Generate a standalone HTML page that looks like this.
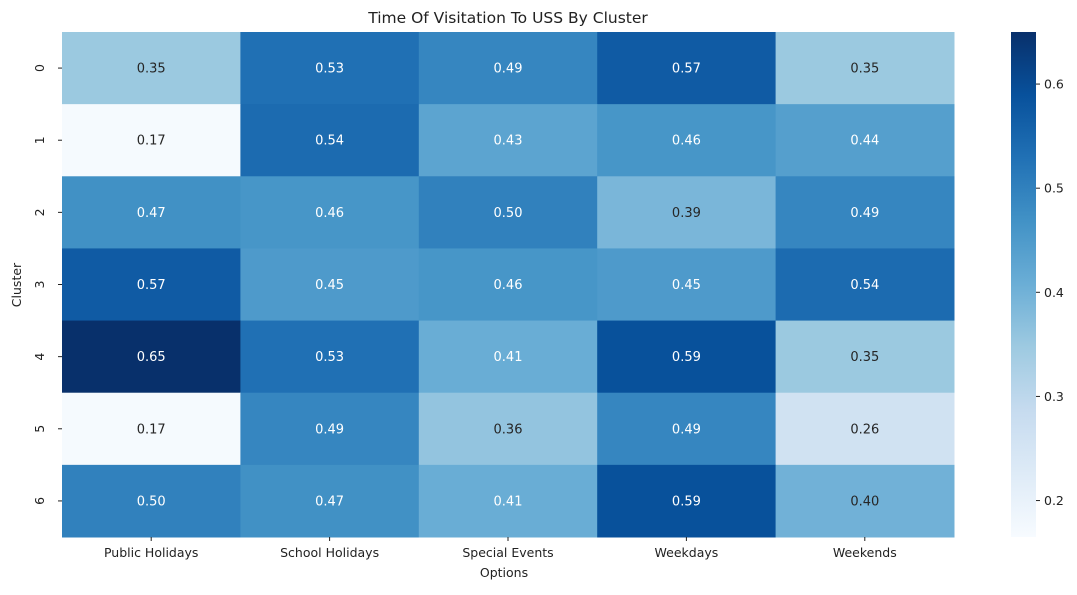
<!DOCTYPE html>
<html><head><meta charset="utf-8"><style>
body{margin:0;background:#fff;}
text{font-family:"DejaVu Sans","Liberation Sans",sans-serif;fill:#222;}
</style></head><body>
<svg id="chart" width="1077" height="590" xmlns="http://www.w3.org/2000/svg">
<text x="508" y="23" font-size="15.5" text-anchor="middle">Time Of Visitation To USS By Cluster</text>
<text x="504" y="577" font-size="12.5" text-anchor="middle">Options</text>
<text x="21" y="285" font-size="12.5" text-anchor="middle" transform="rotate(-90 21 285)">Cluster</text>
<g id="cells"></g><g id="cbar"></g>
</svg>
<script>
const columns=["Public Holidays","School Holidays","Special Events","Weekdays","Weekends"];
const clusters=["0","1","2","3","4","5","6"];
const values=[
[0.35,0.53,0.49,0.57,0.35],
[0.17,0.54,0.43,0.46,0.44],
[0.47,0.46,0.50,0.39,0.49],
[0.57,0.45,0.46,0.45,0.54],
[0.65,0.53,0.41,0.59,0.35],
[0.17,0.49,0.36,0.49,0.26],
[0.50,0.47,0.41,0.59,0.40]];
const cbTicks=[0.2,0.3,0.4,0.5,0.6];
const NS="http://www.w3.org/2000/svg";
const x0=62,x1=954,y0=32,y1=537,vmin=0.165,vmax=0.65;
const cw=(x1-x0)/columns.length,rh=(y1-y0)/clusters.length;
const stops=["#f7fbff","#deebf7","#c6dbef","#9ecae1","#6baed6","#4292c6","#2171b5","#08519c","#08306b"].map(h=>[1,3,5].map(i=>parseInt(h.substr(i,2),16)));
function norm(v){return Math.max(0,Math.min(1,(v-vmin)/(vmax-vmin)));}
function cmap(v){let t=norm(v)*8;let i=Math.min(7,Math.floor(t)),f=t-i;return stops[i].map((c,k)=>Math.round(c+(stops[i+1][k]-c)*f));}
function el(tag,a,p){const e=document.createElementNS(NS,tag);for(const k in a)e.setAttribute(k,a[k]);p.appendChild(e);return e;}
const g=document.getElementById('cells');
values.forEach((row,r)=>row.forEach((v,c)=>{
 const col=cmap(v);
 const rect=el('rect',{x:x0+c*cw,y:y0+r*rh,width:cw+0.5,height:rh+0.5,fill:`rgb(${col})`},g);
 
 
 const t=el('text',{x:x0+(c+0.5)*cw,y:y0+(r+0.5)*rh+4.5,'font-size':13,'text-anchor':'middle'},g);
 t.style.fill=norm(v)>0.495?'#ffffff':'#262626';
 t.textContent=v.toFixed(2);
 
 
}));
columns.forEach((n,c)=>{
 const x=x0+(c+0.5)*cw;
 el('line',{x1:x,x2:x,y1:y1,y2:y1+4,stroke:'#222'},g);
 const t=el('text',{x:x,y:y1+20,'font-size':12.5,'text-anchor':'middle'},g);t.textContent=n;
 
 
});
clusters.forEach((n,r)=>{
 const y=y0+(r+0.5)*rh;
 el('line',{x1:x0-4,x2:x0,y1:y,y2:y,stroke:'#222'},g);
 const t=el('text',{x:44,y:y,'font-size':12.5,'text-anchor':'middle',transform:`rotate(-90 44 ${y})`},g);t.textContent=n;
 
 
});
const cb=document.getElementById('cbar'),cx=1011,cwid=25;
const cy=v=>y1-(v-vmin)/(vmax-vmin)*(y1-y0);
const defs=el('defs',{},cb);const lg=el('linearGradient',{id:'bg',x1:0,y1:1,x2:0,y2:0},defs);
stops.forEach((s,i)=>el('stop',{offset:i/8,'stop-color':`rgb(${s})`},lg));
const cr=el('rect',{x:cx,y:y0,width:cwid,height:y1-y0,fill:'url(#bg)'},cb);


cbTicks.forEach(v=>{
 const y=cy(v);
 el('line',{x1:cx+cwid,x2:cx+cwid+4,y1:y,y2:y,stroke:'#222'},cb);
 const t=el('text',{x:cx+cwid+8,y:y+4.5,'font-size':12.5},cb);t.textContent=v.toFixed(1);
 
 
});
</script>
</body></html>
